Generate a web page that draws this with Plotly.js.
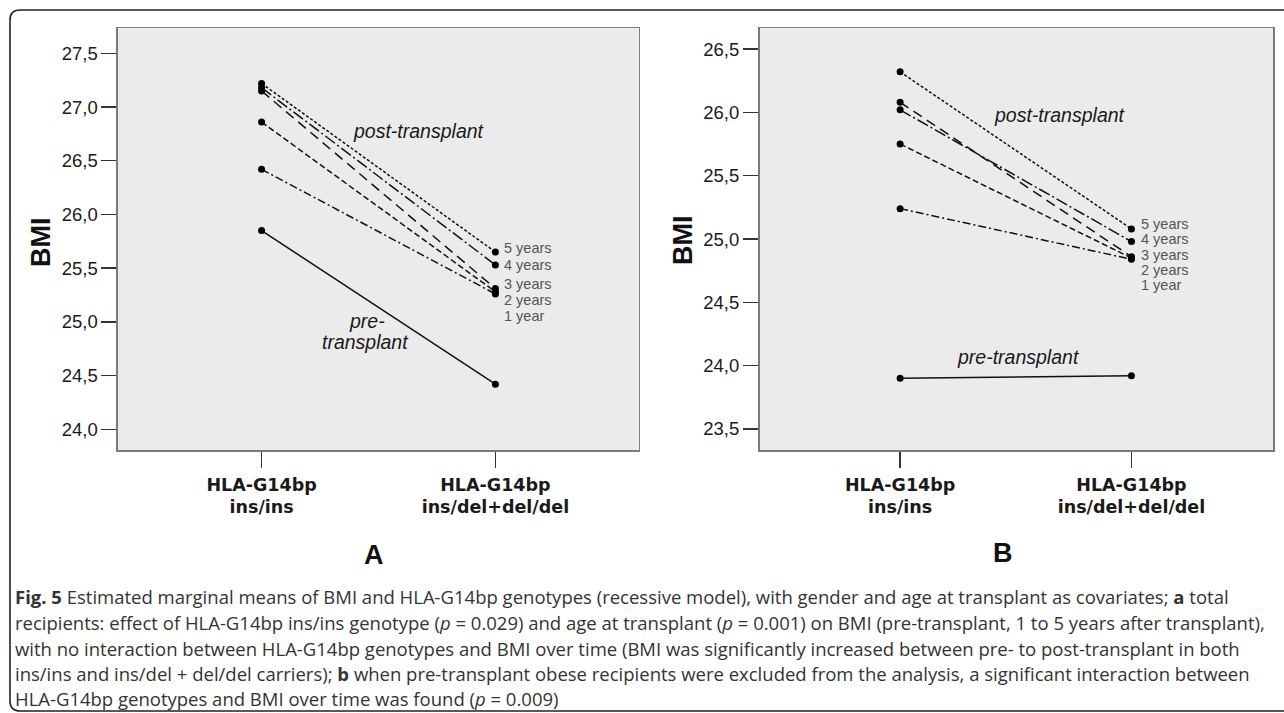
<!DOCTYPE html>
<html>
<head>
<meta charset="utf-8">
<script src="https://cdn.plot.ly/plotly-3.0.1.min.js"></script>
<style>html,body{margin:0;padding:0;background:#fff;}#chart{width:1284px;height:713px;}</style>
</head>
<body>
<div id="chart"></div>
<script>
// ---------- data ----------
const genotypes = ['HLA-G14bp<br>ins/ins', 'HLA-G14bp<br>ins/del+del/del'];
const seriesNames = ['pre-transplant', '1 year', '2 years', '3 years', '4 years', '5 years'];

// Panel A: total recipients
const panelA_pre = [25.85, 24.42];
const panelA_1y  = [26.42, 25.26];
const panelA_2y  = [26.86, 25.28];
const panelA_3y  = [27.15, 25.31];
const panelA_4y  = [27.18, 25.53];
const panelA_5y  = [27.22, 25.65];

// Panel B: pre-transplant obese recipients excluded
const panelB_pre = [23.90, 23.92];
const panelB_1y  = [25.24, 24.84];
const panelB_2y  = [25.75, 24.85];
const panelB_3y  = [26.08, 24.86];
const panelB_4y  = [26.02, 24.98];
const panelB_5y  = [26.32, 25.08];

const yearLabels = ['5 years', '4 years', '3 years', '2 years', '1 year'];
const yTicksA = [24.0, 24.5, 25.0, 25.5, 26.0, 26.5, 27.0, 27.5];
const yTicksB = [23.5, 24.0, 24.5, 25.0, 25.5, 26.0, 26.5];

// ---------- layout helpers ----------
const W = 1284, H = 713;
const px = x => x / W;
const py = y => 1 - y / H;

const dashes = ['solid', '8px,3px,2px,3px', '6px,3px', '10px,6px', '12px,3px,2px,3px', '3px,2px'];
const panelA = [panelA_pre, panelA_1y, panelA_2y, panelA_3y, panelA_4y, panelA_5y];
const panelB = [panelB_pre, panelB_1y, panelB_2y, panelB_3y, panelB_4y, panelB_5y];

const traces = [];
function addPanel(vals, xa, ya) {
  vals.forEach((v, i) => {
    traces.push({
      type: 'scatter', mode: 'lines+markers',
      x: genotypes, y: v, name: seriesNames[i],
      xaxis: xa, yaxis: ya,
      line: {color: '#111', width: 1.5, dash: dashes[i]},
      marker: {color: '#000', size: 7},
      hoverinfo: 'name+y'
    });
  });
}
addPanel(panelA, 'x', 'y');
addPanel(panelB, 'x2', 'y2');

const yDomain = [py(450), py(28.3)];
const commonX = {
  type: 'category', showline: true, mirror: true, linecolor: '#7a7a7a', linewidth: 1.6,
  ticks: 'outside', ticklen: 16, tickwidth: 1.5, tickcolor: '#333', ticklabelstandoff: 2,
  tickfont: {family: 'DejaVu Sans, Arial', size: 17.5, weight: 'bold', color: '#1a1a1a'},
  showgrid: false, zeroline: false
};
const commonY = {
  showline: true, mirror: true, linecolor: '#7a7a7a', linewidth: 1.6,
  ticks: 'outside', ticklen: 15, tickwidth: 1.5, tickcolor: '#333',
  tickfont: {family: 'Arial, Liberation Sans', size: 18.5, color: '#1a1a1a'},
  tickformat: '.1f', showgrid: false, zeroline: false, domain: yDomain
};

const italic = {family: 'Arial, Liberation Sans', size: 19.5, color: '#1a1a1a'};
const yearFont = {family: 'Arial, Liberation Sans', size: 14.5, color: '#555'};
const capFont = {family: 'Open Sans, Noto Sans', size: 18.5, color: '#333'};

const annotations = [];
function ann(text, x, y, font, extra) {
  annotations.push(Object.assign({text: text, x: px(x), y: py(y), xref: 'paper', yref: 'paper',
    showarrow: false, font: font, xanchor: 'center', yanchor: 'middle'}, extra || {}));
}
// axis titles
ann('<b>BMI</b>', 41, 242, {family: 'Arial, Liberation Sans', size: 27, color: '#111'}, {textangle: -90});
ann('<b>BMI</b>', 683, 240, {family: 'Arial, Liberation Sans', size: 27, color: '#111'}, {textangle: -90});
// in-plot labels
ann('<i>post-transplant</i>', 419, 131, italic);
ann('<i>pre-</i>', 367, 321, italic);
ann('<i>transplant</i>', 366, 342, italic);
ann('<i>post-transplant</i>', 1060, 115, italic);
ann('<i>pre-transplant</i>', 1018, 357, italic);
// year labels
const yearYA = [248, 265.5, 284, 300, 316];
const yearYB = [224, 239.5, 255, 270, 285];
yearLabels.forEach((t, i) => {
  ann(t, 501.5, yearYA[i], yearFont, {xanchor: 'left'});
  ann(t, 1139, yearYB[i], yearFont, {xanchor: 'left'});
});
// panel letters
ann('<b>A</b>', 374, 555, {family: 'Arial, Liberation Sans', size: 27, color: '#111'});
ann('<b>B</b>', 1003, 553, {family: 'Arial, Liberation Sans', size: 27, color: '#111'});
// caption
const captionLines = [
  '<b>Fig. 5</b> Estimated marginal means of BMI and HLA-G14bp genotypes (recessive model), with gender and age at transplant as covariates; <b>a</b> total',
  'recipients: effect of HLA-G14bp ins/ins genotype (<i>p</i> = 0.029) and age at transplant (<i>p</i> = 0.001) on BMI (pre-transplant, 1 to 5 years after transplant),',
  'with no interaction between HLA-G14bp genotypes and BMI over time (BMI was significantly increased between pre- to post-transplant in both',
  'ins/ins and ins/del + del/del carriers); <b>b</b> when pre-transplant obese recipients were excluded from the analysis, a significant interaction between',
  'HLA-G14bp genotypes and BMI over time was found (<i>p</i> = 0.009)'
];
const capY = [596, 622, 648, 673, 698];
captionLines.forEach((t, i) => ann(t, 13, capY[i], capFont, {xanchor: 'left'}));

// outer rounded frame
const L = 10, T = 10, B = 711, R = 10;
const framePath = `M ${px(1300)},${py(T)} L ${px(L + R)},${py(T)} Q ${px(L)},${py(T)} ${px(L)},${py(T + R)} ` +
  `L ${px(L)},${py(B - R)} Q ${px(L)},${py(B)} ${px(L + R)},${py(B)} L ${px(1300)},${py(B)}`;

const layout = {
  width: W, height: H,
  margin: {l: 0, r: 0, t: 0, b: 0, pad: 0},
  paper_bgcolor: '#ffffff', plot_bgcolor: '#ebebeb',
  showlegend: false, separators: ',.',
  font: {family: 'Arial, Liberation Sans', color: '#1a1a1a'},
  xaxis: Object.assign({}, commonX, {domain: [px(118), px(638.5)], range: [-0.614, 1.612], anchor: 'y'}),
  yaxis: Object.assign({}, commonY, {range: [23.807, 27.733], tickvals: yTicksA, anchor: 'x'}),
  xaxis2: Object.assign({}, commonX, {domain: [px(759.5), px(1273)], range: [-0.608, 1.612], anchor: 'y2'}),
  yaxis2: Object.assign({}, commonY, {range: [23.334, 26.664], tickvals: yTicksB, anchor: 'x2'}),
  annotations: annotations,
  shapes: [{type: 'path', xref: 'paper', yref: 'paper', path: framePath, line: {color: '#222', width: 1.6}}]
};

Plotly.newPlot('chart', traces, layout, {displayModeBar: false, staticPlot: true});
</script>
</body>
</html>
